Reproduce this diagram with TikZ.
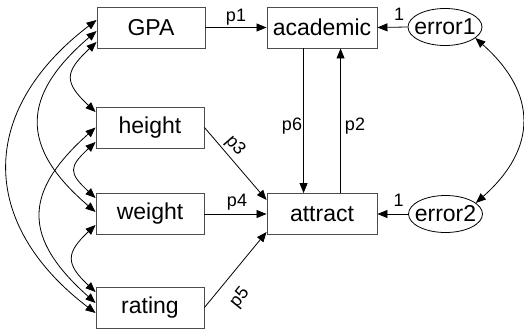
\documentclass[tikz,border=0pt]{standalone}
\usepackage{fontspec}
\setmainfont{Liberation Sans}
\usetikzlibrary{arrows.meta,shapes.geometric,calc}
\begin{document}
\begin{tikzpicture}[x=1pt,y=-1pt,
  box/.style={draw=black!70, line width=0.9pt, minimum width=108pt, minimum height=41pt, inner sep=0pt, font=\fontsize{23}{26}\selectfont},
  err/.style={ellipse, draw=black, line width=0.8pt, minimum width=74pt, minimum height=37pt, inner sep=0pt},
  errtxt/.style={inner sep=0pt, font=\fontsize{23}{26}\selectfont},
  lbl/.style={font=\fontsize{18}{20}\selectfont, inner sep=0pt},
  arr/.style={-{Triangle[length=10pt,width=8pt]}, line width=0.8pt},
  dbl/.style={{Triangle[length=10pt,width=8pt]}-{Triangle[length=10pt,width=8pt]}, line width=0.8pt}]
\useasboundingbox (0,0) rectangle (524,329);
% observed
\node[box] (GPA) at (151,27.5) {GPA};
\node[box] (height) at (150,127.5) {height};
\node[box] (weight) at (150,214) {weight};
\node[box] (rating) at (150,307.5) {rating};
% latent / endogenous
\node[box, minimum width=110pt] (academic) at (322,27.5) {academic};
\node[box, minimum width=110pt] (attract) at (322,214) {attract};
\node[err] (error1) at (445,27) {};
\node[errtxt] at (error1.center) {error1};
\node[err] (error2) at (445.5,214) {};
\node[errtxt] at (error2.center) {error2};
% paths
\draw[arr] (GPA.east) -- (academic.west);
\node[lbl] at (236,17) {p1};
\draw[arr] (error1.west) -- (academic.east);
\node[lbl] at (399,14) {1};
\draw[arr] (error2.west) -- (attract.east);
\node[lbl] at (398.5,200) {1};
\draw[arr] ($(academic.south west)+(37,0)$) -- ($(attract.north west)+(37,0)$);
\node[lbl] at (292,126) {p6};
\draw[arr] ($(attract.north west)+(74,0)$) -- ($(academic.south west)+(74,0)$);
\node[lbl] at (355,126) {p2};
\draw[arr] (height.east) -- ($(attract.west)+(0,-14)$);
\node[lbl, rotate=-49] at (235,146) {p3};
\draw[arr] (weight.east) -- (attract.west);
\node[lbl] at (237,202) {p4};
\draw[arr] (rating.east) -- ($(attract.west)+(0,18)$);
\node[lbl, rotate=51] at (240,298) {p5};
% covariances
\draw[dbl] ($(GPA.west)+(0,-7.5)$) .. controls +(-118,90) and +(-118,-90) .. ($(rating.west)+(0,5.5)$);
\draw[dbl] ($(GPA.west)+(0,3.5)$) .. controls +(-76,65) and +(-76,-65) .. ($(weight.west)+(0,-2)$);
\draw[dbl] ($(height.west)+(0,0)$) .. controls +(-73,65) and +(-73,-65) .. ($(rating.west)+(0,-4.5)$);
\draw[dbl] ($(GPA.west)+(0,14.5)$) .. controls +(-32,30) and +(-32,-30) .. ($(height.west)+(0,-15.5)$);
\draw[dbl] ($(height.west)+(0,14.5)$) .. controls +(-27,25) and +(-27,-25) .. ($(weight.west)+(0,-16)$);
\draw[dbl] ($(weight.west)+(0,11)$) .. controls +(-30,28) and +(-30,-28) .. ($(rating.west)+(0,-15.5)$);
\draw[dbl] (error1.-20) .. controls +(62,55) and +(62,-55) .. (error2.20);
\end{tikzpicture}
\end{document}
